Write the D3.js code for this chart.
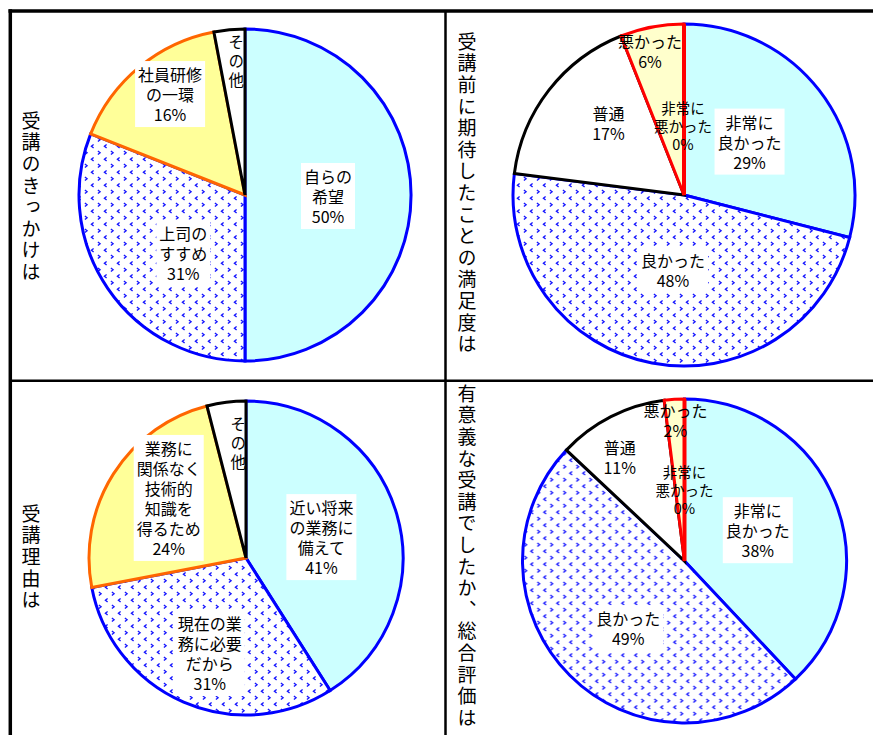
<!DOCTYPE html>
<html>
<head>
<meta charset="utf-8">
<script src="https://cdn.jsdelivr.net/npm/d3@7"></script>
<style>
  body { margin: 0; background: #fff; }
  svg text { font-family: "Noto Sans CJK JP", "Noto Sans", sans-serif; fill: #000; }
</style>
</head>
<body>
<div id="view"></div>
<script>
'use strict';

// data
var titles = ['受講のきっかけは', '受講前に期待したことの満足度は', '受講理由は', '有意義な受講でしたか、総合評価は']

var reasonLabels = ['自らの\n希望', '上司の\nすすめ', '社員研修\nの一環', 'その他']
var reasonValues = [50, 31, 16, 3]

var expectLabels = ['非常に\n良かった', '良かった', '普通', '悪かった', '非常に\n悪かった']
var expectValues = [29, 48, 17, 6, 0]

var motiveLabels = ['近い将来\nの業務に\n備えて', '現在の業\n務に必要\nだから', '業務に\n関係なく\n技術的\n知識を\n得るため', 'その他']
var motiveValues = [41, 31, 24, 4]

var overallLabels = ['非常に\n良かった', '良かった', '普通', '悪かった', '非常に\n悪かった']
var overallValues = [38, 49, 11, 2, 0]

// slice styles
var styles = {
    cyan:   {fill: '#ccffff', stroke: '#0000ff'},
    dots:   {fill: 'url(#dots)', stroke: '#0000ff'},
    yellow: {fill: '#ffff99', stroke: '#ff6600'},
    white:  {fill: '#ffffff', stroke: '#000000'},
    pale:   {fill: '#ffffcc', stroke: '#ff0000'}
}

var charts = [
    {title: titles[0], labels: reasonLabels, values: reasonValues, cx: 245, cy: 195, r: 166, tx: 31, ty: 111,
     kinds: ['cyan', 'dots', 'yellow', 'white'],
     nudge: [[0, 1], [7, 11], [-22, -37], [-1, -50]], box: [1, 1, 1, 0], vert: [0, 0, 0, 1]},
    {title: titles[1], labels: expectLabels, values: expectValues, cx: 684, cy: 195, r: 171, tx: 467, ty: 32,
     kinds: ['cyan', 'dots', 'white', 'pale', 'pale'],
     nudge: [[-2, -1], [5, -9], [-8, -20], [-18, -60], [-1, 16]], box: [1, 1, 0, 0, 0], vert: [0, 0, 0, 0, 0]},
    {title: titles[2], labels: motiveLabels, values: motiveValues, cx: 246, cy: 558, r: 157, tx: 31, ty: 504,
     kinds: ['cyan', 'dots', 'yellow', 'white'],
     nudge: [[0, 1], [-5, 23], [-11, -18], [2, -35]], box: [1, 1, 1, 0], vert: [0, 0, 0, 1]},
    {title: titles[3], labels: overallLabels, values: overallValues, cx: 684.5, cy: 561, r: 162, tx: 467, ty: 384,
     kinds: ['cyan', 'dots', 'white', 'pale', 'pale'],
     nudge: [[-2, -1], [1, 10], [-28, -32], [-4, -60], [0, 9]], box: [1, 1, 0, 0, 0], vert: [0, 0, 0, 0, 0]}
]

var W = 873, H = 735

var svg = d3.select('#view').append('svg').attr('width', W).attr('height', H)

// sparse blue chevron fill
var pat = svg.append('defs').append('pattern')
    .attr('id', 'dots')
    .attr('patternUnits', 'userSpaceOnUse')
    .attr('width', 13).attr('height', 13)
pat.append('rect').attr('width', 13).attr('height', 13).attr('fill', '#fff')
pat.append('path').attr('d', 'M4.6,1.4 L2.4,3.2 L4.6,5').attr('fill', 'none').attr('stroke', '#1515ff').attr('stroke-width', 1.35)
pat.append('path').attr('d', 'M8.9,7.9 L11.1,9.7 L8.9,11.5').attr('fill', 'none').attr('stroke', '#1515ff').attr('stroke-width', 1.35)

var pie = d3.pie().sort(null).value(function(d) { return d })

charts.forEach(function(c) {
    var arc = d3.arc().innerRadius(0).outerRadius(c.r)
    var g = svg.append('g').attr('transform', 'translate(' + c.cx + ',' + c.cy + ')')
    var arcs = pie(c.values)

    g.selectAll('path.slice')
        .data(arcs)
      .enter().append('path')
        .attr('class', 'slice')
        .attr('d', arc)
        .attr('fill', function(d, i) { return styles[c.kinds[i]].fill })
        .attr('stroke', function(d, i) { return styles[c.kinds[i]].stroke })
        .attr('stroke-width', function(d, i) { return d.value === 0 ? 4 : 3 })

    arcs.forEach(function(d, i) {
        var p = arc.centroid(d)
        var x = p[0] + c.nudge[i][0], y = p[1] + c.nudge[i][1]
        var lg = g.append('g').attr('transform', 'translate(' + x + ',' + y + ')')

        if (c.vert[i]) {
            lg.append('text')
                .attr('text-anchor', 'middle')
                .style('writing-mode', 'vertical-rl')
                .style('font-size', '15.5px')
                .style('letter-spacing', '3.5px')
                .text(c.labels[i])
            return
        }

        // the 0% labels are set a bit smaller
        var fs = d.value === 0 ? 14.5 : 16
        var lh = d.value === 0 ? 18 : 20
        var lines = c.labels[i].split('\n').concat([d.value + '%'])
        var t = lg.append('text')
            .attr('text-anchor', 'middle')
            .style('font-size', fs + 'px')
        lines.forEach(function(s, k) {
            t.append('tspan')
                .attr('x', 0)
                .attr('y', (k - (lines.length - 1) / 2) * lh)
                .attr('dominant-baseline', 'central')
                .text(s)
        })
        if (c.box[i]) {
            var bb = t.node().getBBox()
            lg.insert('rect', 'text')
                .attr('x', bb.x - 3).attr('y', bb.y - 1)
                .attr('width', bb.width + 6).attr('height', bb.height + 2)
                .attr('fill', '#fff')
        }
    })

    // side title, written top to bottom
    svg.append('text')
        .attr('x', c.tx).attr('y', c.ty)
        .style('writing-mode', 'vertical-rl')
        .style('font-size', '19px')
        .style('letter-spacing', '2.6px')
        .text(c.title)
})

// frame
var frame = svg.append('g').attr('stroke', '#000').attr('fill', 'none')
frame.append('line').attr('x1', 8.5).attr('x2', W).attr('y1', 11).attr('y2', 11).attr('stroke-width', 3.5)
frame.append('line').attr('x1', 10.3).attr('x2', 10.3).attr('y1', 9.3).attr('y2', H).attr('stroke-width', 3.5)
frame.append('line').attr('x1', 445.5).attr('x2', 445.5).attr('y1', 11).attr('y2', H).attr('stroke-width', 2.5)
frame.append('line').attr('x1', 10).attr('x2', W).attr('y1', 380.7).attr('y2', 380.7).attr('stroke-width', 2.5)
</script>
</body>
</html>
